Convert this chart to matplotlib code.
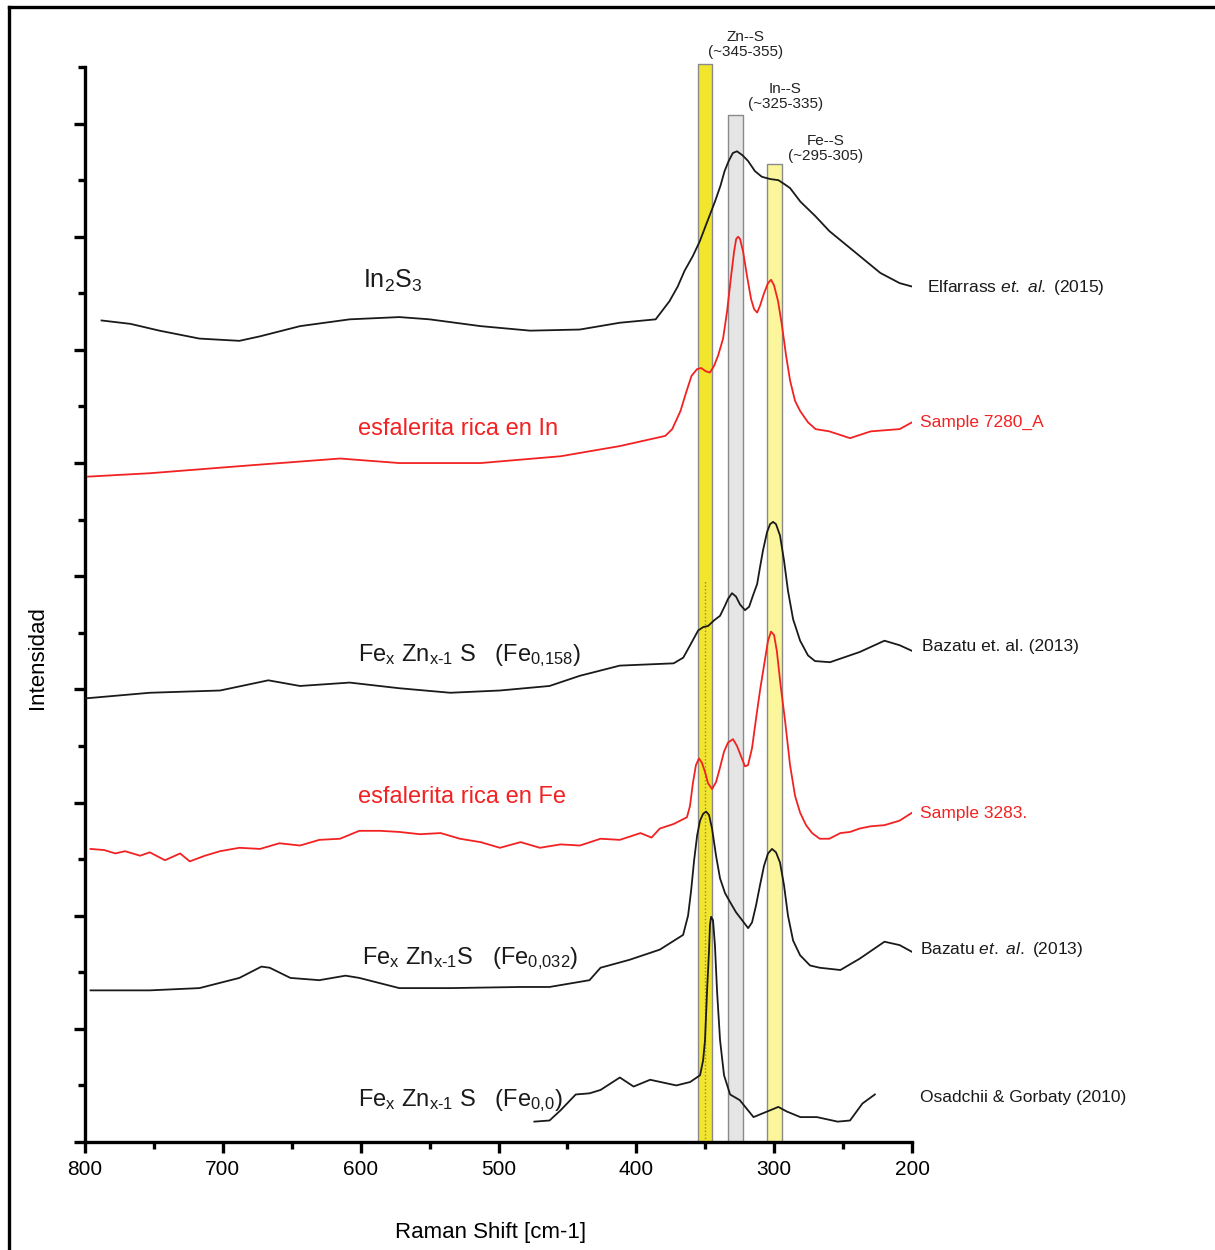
import matplotlib.pyplot as plt
import matplotlib.lines as mlines
import numpy as np

plt.rcParams['font.family'] = ['Liberation Sans', 'DejaVu Sans']
plt.rcParams['mathtext.fontset'] = 'custom'
plt.rcParams['mathtext.rm'] = 'Liberation Sans'
plt.rcParams['mathtext.it'] = 'Liberation Sans:italic'

# In2S3 - Elfarrass et al. (2015)
in2s3_x = [788, 767, 746, 717, 688, 673, 644, 608, 572, 550, 513, 477, 441, 412, 386, 376,
           370, 365, 359, 354, 349, 343, 339, 336, 333, 330, 327, 323, 319, 314, 309, 303,
           297, 292, 288.5, 281, 270, 260, 238, 223, 209, 200]
in2s3_y = [7.26, 7.23, 7.17, 7.10, 7.08, 7.12, 7.21, 7.27, 7.29, 7.27, 7.21, 7.17, 7.18, 7.24,
           7.27, 7.43, 7.56, 7.70, 7.83, 7.96, 8.12, 8.31, 8.45, 8.58, 8.67, 8.74, 8.755, 8.72,
           8.67, 8.58, 8.53, 8.51, 8.50, 8.46, 8.43, 8.31, 8.18, 8.05, 7.83, 7.68, 7.59, 7.56]

# Sample 7280_A - sphalerite rich in In
s7280_x = [798, 753, 680, 615, 572, 513, 455, 412, 379, 374, 368, 364, 360, 356, 353, 349.5,
           346.6, 343.6, 340.7, 337.1, 334.2, 331.3, 329.1, 327.6, 326.2, 324.8, 322.6, 319.7,
           316.8, 314.6, 312.4, 310.3, 307.4, 304.5, 302.3, 300.1, 297.2, 294.3, 291.4, 288.5,
           284.9, 281.2, 275.5, 270, 260, 245, 230, 209, 200]
s7280_y = [5.88, 5.91, 5.98, 6.04, 6.00, 6.00, 6.06, 6.15, 6.24, 6.30, 6.46, 6.62, 6.77, 6.83,
           6.84, 6.81, 6.80, 6.86, 6.95, 7.10, 7.34, 7.65, 7.87, 7.98, 8.00, 7.98, 7.87, 7.65,
           7.45, 7.36, 7.33, 7.39, 7.50, 7.59, 7.62, 7.57, 7.43, 7.21, 6.95, 6.73, 6.55, 6.46,
           6.36, 6.30, 6.28, 6.22, 6.28, 6.30, 6.36]

# Bazatu et al. (2013) - Fe 0.158
fe158_x = [800, 753, 702, 667, 644, 608, 572, 535, 499, 463, 441, 412, 373, 366, 361, 355.2,
           351.6, 348, 343.6, 339.3, 335.7, 333.5, 330.6, 327.7, 324.8, 321.2, 318.2, 315.4,
           312.4, 310.3, 308.1, 305.2, 303, 300.8, 298.7, 295.8, 292.9, 290, 286.3, 281.2,
           275.5, 270.4, 259.5, 238, 220, 209, 200]
fe158_y = [3.92, 3.97, 3.99, 4.08, 4.03, 4.06, 4.01, 3.97, 3.99, 4.03, 4.12, 4.21, 4.23, 4.28,
           4.39, 4.52, 4.55, 4.56, 4.61, 4.65, 4.74, 4.80, 4.85, 4.82, 4.75, 4.70, 4.73, 4.83,
           4.93, 5.08, 5.23, 5.39, 5.46, 5.48, 5.46, 5.36, 5.14, 4.87, 4.62, 4.43, 4.30, 4.25,
           4.24, 4.33, 4.43, 4.39, 4.34]

# Sample 3283 - sphalerite rich in Fe
s3283_x = [796, 786, 778, 771, 760, 753, 742, 731, 724, 713, 702, 688, 673, 659, 644, 630,
           615, 601, 586, 572, 557, 542, 528, 513, 499, 484, 470, 455, 441, 426, 412, 397,
           389, 383, 373, 363.3, 361.1, 359, 356.8, 354.6, 352.4, 350.2, 348, 345.1, 342.2,
           339.3, 336.4, 333.5, 329.9, 327, 324.1, 321.2, 319, 316.1, 313.2, 310.3, 307.4,
           304.5, 302.3, 300.1, 298.1, 295.3, 292.1, 288.5, 284.9, 281.2, 276.9, 272.5, 267,
           260, 252, 245, 238, 230, 220, 209, 200]
s3283_y = [2.59, 2.58, 2.55, 2.57, 2.53, 2.56, 2.49, 2.55, 2.48, 2.53, 2.57, 2.60, 2.59, 2.64,
           2.62, 2.67, 2.68, 2.75, 2.75, 2.74, 2.72, 2.73, 2.68, 2.65, 2.60, 2.65, 2.60, 2.63,
           2.62, 2.68, 2.67, 2.73, 2.69, 2.77, 2.81, 2.87, 2.97, 3.17, 3.33, 3.39, 3.35, 3.27,
           3.17, 3.12, 3.18, 3.31, 3.45, 3.53, 3.56, 3.50, 3.41, 3.32, 3.33, 3.48, 3.74, 3.99,
           4.21, 4.43, 4.51, 4.48, 4.34, 4.03, 3.72, 3.33, 3.06, 2.91, 2.80, 2.73, 2.68, 2.68,
           2.73, 2.74, 2.77, 2.79, 2.80, 2.84, 2.91]

# Bazatu et al. (2013) - Fe 0.032
fe032_x = [796, 753, 717, 688, 672, 666, 651, 630, 611, 601, 572, 535, 484, 463, 434, 426,
           405, 383, 366.1, 362.5, 360.3, 358.1, 355.9, 353.8, 351.6, 349.4, 347.3, 345.1,
           342.2, 339.3, 335.7, 332, 327.7, 323.3, 318.9, 316.1, 313.2, 310.3, 307.4, 304.5,
           301.6, 298.7, 295.8, 292.9, 290, 286.3, 281.2, 274, 267, 252, 238, 220, 209, 200]
fe032_y = [1.34, 1.34, 1.36, 1.45, 1.55, 1.54, 1.45, 1.43, 1.47, 1.45, 1.36, 1.36, 1.37, 1.37,
           1.43, 1.54, 1.61, 1.70, 1.83, 2.00, 2.22, 2.49, 2.71, 2.84, 2.90, 2.92, 2.89, 2.77,
           2.53, 2.33, 2.20, 2.12, 2.03, 1.96, 1.89, 1.94, 2.09, 2.27, 2.44, 2.55, 2.59, 2.56,
           2.47, 2.27, 2.00, 1.78, 1.65, 1.56, 1.54, 1.52, 1.62, 1.77, 1.74, 1.68]

# Osadchii & Gorbaty (2010) - Fe 0.0
fe0_x = [474, 463, 455, 444, 434, 426, 412, 402, 390, 371, 361, 353.8, 351.6, 350.2, 348.7,
         347.3, 346.6, 345.8, 344.4, 343, 341.5, 339.3, 336.4, 332, 325, 315, 305, 297, 291,
         281, 269, 254, 245, 236, 227]
fe0_y = [0.18, 0.19, 0.28, 0.42, 0.43, 0.46, 0.57, 0.49, 0.55, 0.50, 0.53, 0.59, 0.72, 0.90,
         1.34, 1.69, 1.92, 1.99, 1.96, 1.74, 1.34, 0.90, 0.59, 0.42, 0.37, 0.22, 0.27, 0.31,
         0.27, 0.22, 0.22, 0.18, 0.19, 0.34, 0.42]

# vibration bands: (low, high, top, face colour, label)
band_lo = [345, 323, 294.5]
band_hi = [355.5, 333.5, 305]
band_top = [9.53, 9.08, 8.64]
band_col = ['#f2e52e', '#e5e5e5', '#fbf59b']
band_lab = ['Zn--S\n(~345-355)', 'In--S\n(~325-335)', 'Fe--S\n(~295-305)']
band_lab_x = [321, 292, 262.5]
band_lab_y = [9.70, 9.24, 8.78]

fig = plt.figure(figsize=(12.15, 12.5), dpi=100)
ax = fig.add_axes([0.06996, 0.0864, 0.6807, 0.86])

for lo, hi, top, c in zip(band_lo, band_hi, band_top, band_col):
    ax.fill_between([lo, hi], 0, top, facecolor=c, edgecolor='#8a8a8a', lw=1.0,
                    clip_on=False, zorder=1)
ax.plot([350, 350], [0, 4.96], color='#8a8a6a', lw=1.0, ls=(0, (1, 1.5)), zorder=2)

for t, x, y in zip(band_lab, band_lab_x, band_lab_y):
    ax.text(x, y, t, ha='center', va='center', fontsize=11, color='#222222',
            linespacing=1.05, clip_on=False)

black = '#1a1a1a'
red = '#f22222'
kw = dict(lw=1.3, zorder=3, solid_joinstyle='round')
ax.plot(in2s3_x, in2s3_y, color=black, **kw)
ax.plot(s7280_x, s7280_y, color=red, **kw)
ax.plot(fe158_x, fe158_y, color=black, **kw)
ax.plot(s3283_x, s3283_y, color=red, **kw)
ax.plot(fe032_x, fe032_y, color=black, **kw)
ax.plot(fe0_x, fe0_y, color=black, **kw)

# left labels
fs = 17
ax.text(598, 7.61, r'In$_\mathregular{2}$S$_\mathregular{3}$', fontsize=fs + 1, va='center',
        color=black)
ax.text(602, 6.30, 'esfalerita rica en In', fontsize=fs, va='center', color=red)
ax.text(602, 4.30, r'Fe$_\mathregular{x}$ Zn$_\mathregular{x\text{-}1}$ S   (Fe$_\mathregular{0{,}158}$)',
        fontsize=fs, va='center', color=black)
ax.text(602, 3.05, 'esfalerita rica en Fe', fontsize=fs, va='center', color=red)
ax.text(599, 1.62, r'Fe$_\mathregular{x}$ Zn$_\mathregular{x\text{-}1}$S   (Fe$_\mathregular{0{,}032}$)',
        fontsize=fs, va='center', color=black)
ax.text(602, 0.37, r'Fe$_\mathregular{x}$ Zn$_\mathregular{x\text{-}1}$ S   (Fe$_\mathregular{0{,}0}$)',
        fontsize=fs, va='center', color=black)

# right labels
fr = 12.5
ax.text(189, 7.555, r'Elfarrass $et.$ $al.$ (2015)', fontsize=fr, va='center', color=black,
        clip_on=False)
ax.text(194.5, 6.355, 'Sample 7280_A', fontsize=fr, va='center', color=red, clip_on=False)
ax.text(193, 4.38, 'Bazatu et. al. (2013)', fontsize=fr, va='center', color=black, clip_on=False)
ax.text(194.5, 2.90, 'Sample 3283.', fontsize=fr, va='center', color=red, clip_on=False)
ax.text(194.5, 1.70, r'Bazatu $et.$ $al.$ (2013)', fontsize=fr, va='center', color=black,
        clip_on=False)
ax.text(194.5, 0.39, 'Osadchii & Gorbaty (2010)', fontsize=fr, va='center', color=black,
        clip_on=False)

ax.set_xlim(800, 200)
ax.set_ylim(0, 9.5)
ax.set_xticks(np.arange(800, 199, -100))
ax.set_xticks(np.arange(750, 200, -100), minor=True)
ax.set_yticks(np.arange(0, 10, 1))
ax.set_yticks(np.arange(0.5, 9.6, 1), minor=True)
ax.set_yticklabels([])
for s in ['top', 'right']:
    ax.spines[s].set_visible(False)
for s in ['left', 'bottom']:
    ax.spines[s].set_linewidth(2.4)
ax.tick_params(axis='both', which='major', width=2.4, length=8, labelsize=15, pad=5)
ax.tick_params(axis='both', which='minor', width=2.4, length=5)
ax.set_xlabel('Raman Shift [cm-1]', fontsize=16)
ax.xaxis.set_label_coords(0.49, -0.0744)
ax.set_ylabel('Intensidad', fontsize=16)
ax.yaxis.set_label_coords(-0.045, 0.451)

# outer frame (only left and top edges are visible)
fig.add_artist(mlines.Line2D([9 / 1215, 9 / 1215], [0, 1 - 7 / 1250], color='black', lw=2.4,
                             transform=fig.transFigure))
fig.add_artist(mlines.Line2D([9 / 1215, 1], [1 - 7 / 1250, 1 - 7 / 1250], color='black', lw=2.4,
                             transform=fig.transFigure))

fig.savefig('out.png', dpi=100)
